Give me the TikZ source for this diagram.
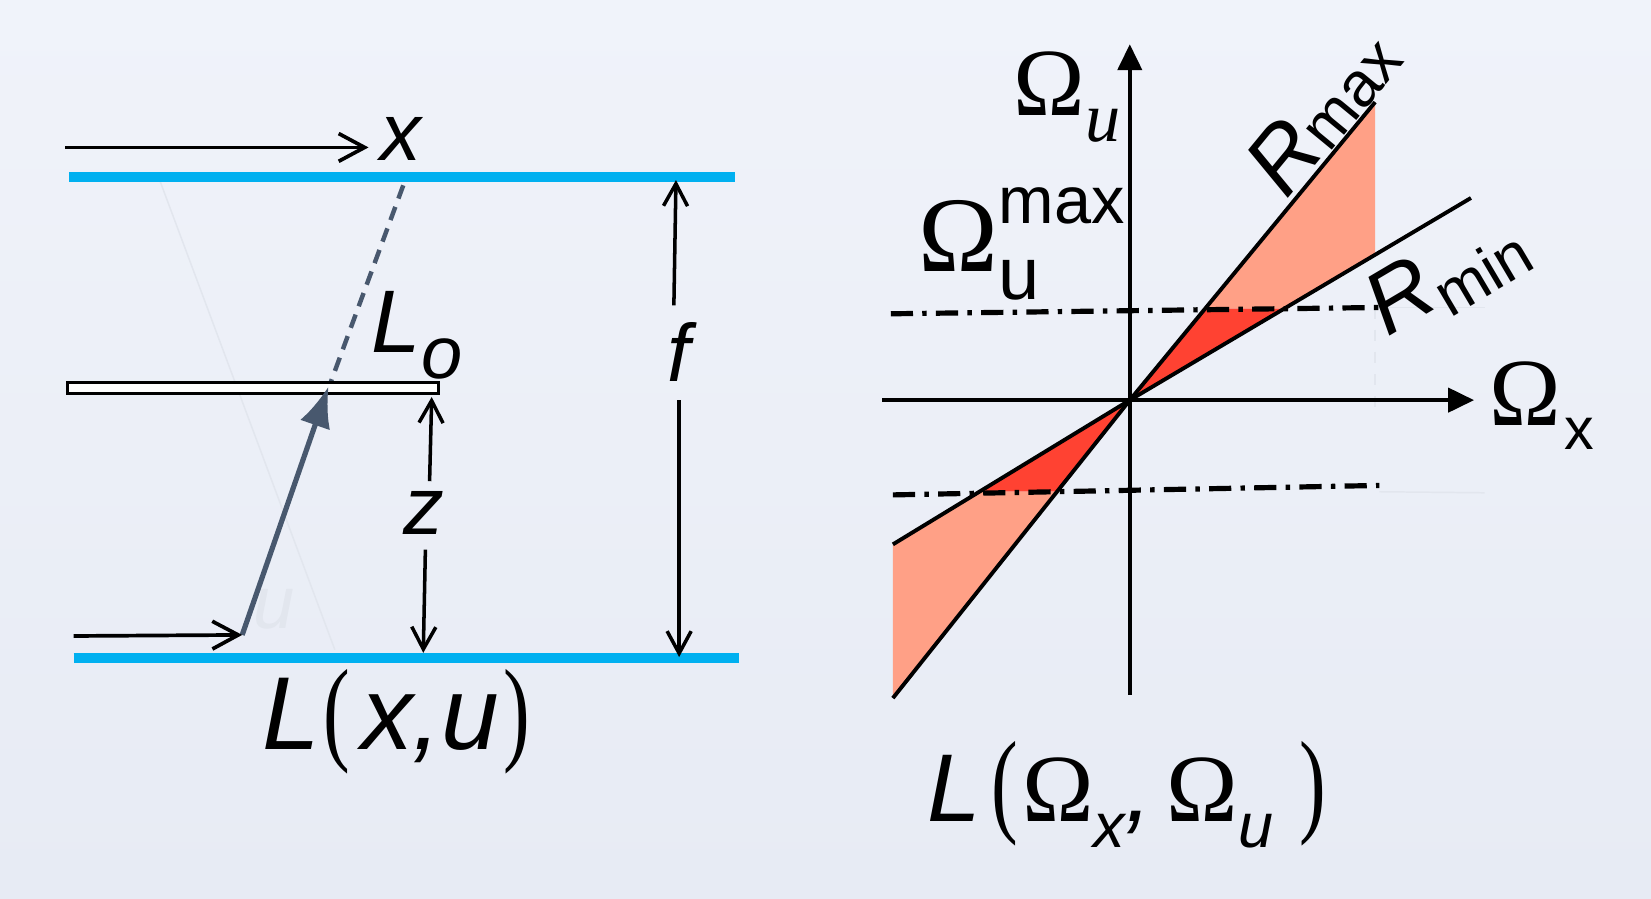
\documentclass[tikz,border=0pt]{standalone}
\usepackage{fontspec}
\setmainfont{Liberation Sans}
\newfontfamily\omegafont{Liberation Serif}
\usepackage{graphicx}
\usetikzlibrary{arrows.meta}
\definecolor{bgtop}{HTML}{F0F3FA}
\definecolor{bgbot}{HTML}{E7EBF4}
\definecolor{barblue}{HTML}{00B0F0}
\definecolor{slate}{HTML}{48586E}
\definecolor{salmon}{HTML}{FFA086}
\definecolor{redfill}{HTML}{FF4232}
\definecolor{faintc}{HTML}{E2E6EE}
\newcommand\fs[1]{\fontsize{#1}{#1}\selectfont}
\newcommand\tallparen[1]{\scalebox{0.9}[1.3]{\omegafont\upshape\fs{24}#1}}
\begin{document}
\begin{tikzpicture}[x=0.01cm,y=-0.01cm,
  bar/.style={barblue,line width=0.09cm},
  openarr/.style={line width=1pt,-{Straight Barb[length=7pt,width=7.5pt]}},
  dimarr/.style={line width=0.95pt,-{Straight Barb[length=6pt,width=6.5pt]}},
  axisarr/.style={line width=1.1pt,-{Triangle[length=7pt,width=6.5pt]}},
  ray/.style={line width=1.05pt},
  dashdot/.style={line width=1.4pt,dash pattern=on 6pt off 2.5pt on 1.2pt off 2.5pt},
  faintline/.style={faintc,line width=0.4pt},
  lbl/.style={inner sep=0pt,anchor=base}]

\shade[top color=bgtop,bottom color=bgbot] (0,0) rectangle (1568,853);
\useasboundingbox (0,0) rectangle (1568,853);

% ---------------- left panel ----------------
\coordinate (fa) at (152,172); \coordinate (fb) at (318,617);
\draw[faintline] (fa) -- (fb);
\node[lbl,text=faintc,font=\fs{20}\itshape] (fu) at (260,597) {u};

\coordinate (tbL) at (66,168); \coordinate (tbR) at (698,168);
\coordinate (bbL) at (70,625); \coordinate (bbR) at (702,625);
\draw[bar] (tbL) -- (tbR);
\draw[bar] (bbL) -- (bbR);

% top x arrow
\coordinate (xa0) at (62,140); \coordinate (xa1) at (350,140);
\draw[openarr] (xa0) -- (xa1);
\node[lbl,font=\fs{22}\itshape] (xlab) at (381,152) {x};

% dashed ray
\coordinate (d0) at (383,176); \coordinate (d1) at (313,366);
\draw[slate,line width=1.2pt,dash pattern=on 3.8pt off 2.4pt] (d0) -- (d1);

% lens plane
\draw[fill=white,line width=0.8pt] (64,363) rectangle (416,374);

% L_o
\node[lbl,font=\fs{24}\itshape] (Lo) at (396,335) {L\raisebox{-7pt}{\fs{20}o}};

% gray ray arrow
\coordinate (g0) at (230,603); \coordinate (g1) at (312,367);
\draw[slate,line width=1.4pt,-{Latex[length=11pt,width=8.5pt]}] (g0) -- (g1);

% bottom u arrow
\coordinate (ua0) at (70,604);
\draw[openarr] (ua0) -- (g0);

% z
\node[lbl,font=\fs{22}\itshape] (zlab) at (403,508) {z};
\coordinate (z0) at (408,457); \coordinate (z1) at (410,377);
\coordinate (z2) at (404,522); \coordinate (z3) at (402,620);
\draw[dimarr] (z0) -- (z1);
\draw[dimarr] (z2) -- (z3);

% f
\node[lbl,font=\fs{22}\itshape] (flab) at (645,362) {f};
\coordinate (f0) at (640,290); \coordinate (f1) at (642,171);
\coordinate (f2) at (645,380); \coordinate (f3) at (645,624);
\draw[dimarr] (f0) -- (f1);
\draw[dimarr] (f2) -- (f3);

% L(x,u)
\node[lbl,font=\fs{28}\itshape] (Lxu) at (376,712)
  {L\hspace{1pt}\tallparen{(}\hspace{3pt}x,u\hspace{1pt}\tallparen{)}};

% ---------------- right panel ----------------
\coordinate (O) at (1073,380);
\coordinate (A) at (1144.6,293); \coordinate (B) at (1219.8,293);
\coordinate (C) at (1003.8,467); \coordinate (D) at (930.1,467);
\coordinate (RmaxT) at (1306,97); \coordinate (RminV) at (1306,241.9);
\coordinate (RmaxB) at (848,663); \coordinate (RminB) at (848,517);
\coordinate (RminT) at (1397,188);

\fill[salmon] (A) -- (RmaxT) -- (RminV) -- (B) -- cycle;
\fill[redfill] (O) -- (A) -- (B) -- cycle;
\fill[redfill] (O) -- (C) -- (D) -- cycle;
\fill[salmon] (D) -- (C) -- (RmaxB) -- (RminB) -- cycle;

% faint guide lines
\draw[faintline] (1306,292) -- (1410,292);
\draw[faintline] (1310,467) -- (1410,468);
\draw[faintline,dashed] (1306,292) -- (1306,388);

% axes
\coordinate (vy0) at (1073,660); \coordinate (vy1) at (1073,42);
\coordinate (hx0) at (838,380); \coordinate (hx1) at (1400,380);
\draw[axisarr] (vy0) -- (vy1);
\draw[axisarr] (hx0) -- (hx1);

% rays
\draw[ray] (RmaxB) -- (O) -- (RmaxT);
\draw[ray] (RminB) -- (O) -- (RminT);

% dash-dot levels
\coordinate (p0) at (846,298); \coordinate (p1) at (1310,292);
\coordinate (q0) at (848,470); \coordinate (q1) at (1310,461);
\draw[dashdot] (p0) -- (p1);
\draw[dashdot] (q0) -- (q1);

% labels
\node[inner sep=0pt,anchor=base west] (Ou) at (962,110)
  {\omegafont\fs{26}\symbol{"03A9}\raisebox{-7pt}{\fs{19}\itshape u}};
\node[inner sep=0pt,anchor=base west] (Ox) at (1414,404)
  {\omegafont\fs{26}\symbol{"03A9}\hspace{1pt}\raisebox{-6.5pt}{\normalfont\fs{16}x}};
\node[inner sep=0pt,anchor=base west] (Oumax) at (872,258)
  {\omegafont\fs{29}\symbol{"03A9}\rlap{\raisebox{13pt}{\normalfont\fs{18}max}}\raisebox{-7.5pt}{\normalfont\fs{20}u}};
\node[inner sep=0pt,rotate=50.5] (Rmax) at (1256,106)
  {\fs{24}\itshape R\raisebox{-1pt}{\upshape\fs{17}max}};
\node[inner sep=0pt,rotate=30.6] (Rmin) at (1374,262)
  {\fs{24}\itshape R\raisebox{-4pt}{\upshape\fs{17}min}};

\node[lbl,font=\fs{26}\itshape] (LOO) at (1070,780)
  {L\hspace{3pt}\tallparen{(}\hspace{1pt}{\omegafont\upshape\symbol{"03A9}}\raisebox{-7pt}{\fs{17}x},\hspace{4pt}{\omegafont\upshape\symbol{"03A9}}\raisebox{-7pt}{\fs{17}u}\hspace{7pt}\tallparen{)}};
\end{tikzpicture}
\end{document}
